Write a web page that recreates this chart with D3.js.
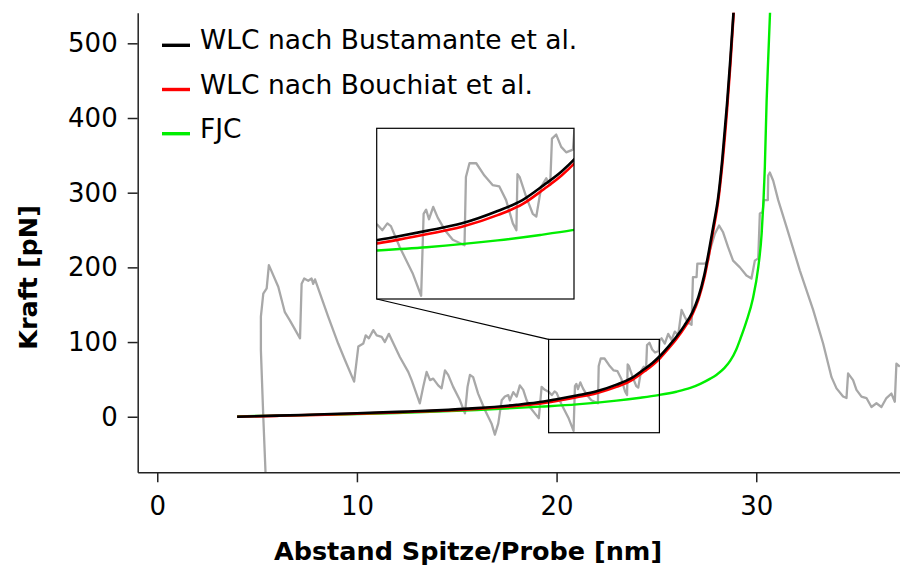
<!DOCTYPE html>
<html><head><meta charset="utf-8">
<script src="https://cdn.jsdelivr.net/npm/d3@7"></script>
<style>body{margin:0;background:#fff} svg{display:block}</style>
</head><body>
<svg id="chart" width="900" height="567"></svg>
<script>
// ---------- data (nm, pN) ----------
const seriesNames = ["WLC nach Bustamante et al.", "WLC nach Bouchiat et al.", "FJC"];
const seriesColors = ["#000000", "#ff0000", "#00ee00"];

const wlcBustamante = [[4,0],[6,1.5],[8,3],[10,4.7],[12,6.5],[14,8.5],[16,11.5],[18,16],[19,19],[20,23.5],[21,28.5],[22,34],[23,43],[23.7,51],[24.3,62],[24.8,72],[25.2,82],[25.6,94],[26,107],[26.4,122],[26.8,140],[27.1,160],[27.4,190],[27.63,222],[27.85,255],[28.09,293],[28.3,345],[28.54,420],[28.7,478],[28.86,541],[28.95,580]];

const wlcBouchiat = [[4,0],[6,1.2],[8,2.5],[10,4],[12,5.8],[14,7.8],[16,10.5],[18,14.5],[19,17],[20,21],[21,26],[22,31.5],[23,40],[23.7,48],[24.3,59],[24.8,69],[25.2,79],[25.6,91],[26,104],[26.4,119],[26.8,137],[27.1,157],[27.4,186],[27.63,217],[27.85,250],[28.09,288],[28.3,338],[28.54,412],[28.7,470],[28.87,541],[28.96,580]];

const fjc = [[4,0.5],[8,2.5],[12,5],[16,9],[19.2,13.5],[21,16.5],[23,21.5],[24.2,25.5],[25.1,29],[26,33.5],[26.7,38.5],[27.2,44],[27.7,51],[28,56],[28.4,65],[28.7,75],[29,90],[29.2,104],[29.5,127],[29.83,158],[30.1,200],[30.27,245],[30.43,334],[30.52,423],[30.6,480],[30.69,541],[30.74,580]];

const measured = [[5.43,-80],[5.31,0],[5.19,89],[5.19,134],[5.31,165],[5.48,172],[5.59,203],[6.06,174],[6.39,140],[6.64,129],[7.15,105],[7.23,178],[7.36,185],[7.56,182],[7.73,185],[7.81,178],[7.9,184],[8.56,134],[9.06,98],[9.4,76],[9.86,47],[10.07,94],[10.32,98],[10.44,109],[10.6,105],[10.82,116],[10.99,109],[11.24,107],[11.4,100],[11.6,111],[11.74,103],[12.15,80],[12.57,60],[12.74,49],[13.15,18],[13.32,40],[13.49,60],[13.66,49],[13.82,51],[14.07,42],[14.24,38],[14.41,62],[14.57,56],[14.82,40],[15.16,22],[15.41,4.5],[15.54,40],[15.66,56],[15.82,53],[16.07,31],[16.41,9],[16.74,-9],[16.91,-24],[17.08,-9],[17.25,22],[17.41,27],[17.58,29],[17.66,22],[17.83,33],[18,27],[18.16,42],[18.33,36],[18.5,22],[18.66,13],[18.91,4.5],[19.11,-2],[19.25,40],[19.41,36],[19.62,33],[19.76,29],[19.9,34],[20,32],[20.24,17],[20.43,7],[20.61,-2.5],[20.85,-19],[20.92,41],[20.99,44],[21.07,37],[21.19,46],[21.32,38],[21.52,29],[21.74,22],[22.07,18],[22.11,68],[22.21,78],[22.4,78],[22.63,69],[22.86,62],[23.05,61],[23.24,51],[23.43,34],[23.53,29],[23.56,70],[23.62,68],[23.81,53],[23.99,41],[24.09,39],[24.23,61],[24.37,67],[24.48,62],[24.53,96],[24.65,99],[24.79,90],[24.93,86],[25.12,88],[25.16,102],[25.26,105],[25.42,98],[25.59,111],[25.76,103],[25.92,114],[26.09,109],[26.26,143],[26.42,134],[26.59,125],[26.67,125],[26.76,123],[26.83,187],[27.01,187],[27.05,205],[27.43,205],[27.59,209],[27.68,223],[27.93,245],[28.14,256],[28.34,247],[28.59,227],[28.84,209],[29.18,200],[29.51,189],[29.76,185],[29.93,209],[30.1,212],[30.18,272],[30.32,274],[30.38,290],[30.58,290],[30.6,323],[30.68,327],[30.85,316],[31.1,290],[31.52,254],[32.18,196],[32.85,143],[33.35,98],[33.77,53],[34.02,38],[34.35,27],[34.52,25],[34.6,58],[34.85,49],[35.02,36],[35.27,27],[35.52,25],[35.77,13],[36.02,18],[36.27,13],[36.52,25],[36.77,31],[36.94,20],[37.02,71],[37.19,67]];

const xTicks = [0, 10, 20, 30];
const yTicks = [0, 100, 200, 300, 400, 500];
const xLabel = "Abstand Spitze/Probe [nm]";
const yLabel = "Kraft [pN]";
const xDomain = [-0.98, 37.2];
const yDomain = [-74.4, 541];
const zoomXDomain = [19.6, 25.15];
const zoomYDomain = [-21.4, 103.6];

// ---------- drawing ----------
const svg = d3.select("#chart");
const FONT = "'DejaVu Sans', Verdana, sans-serif";
const plot = {left: 137.7, right: 900, top: 12.7, bottom: 472.3};
const inset = {left: 376.7, right: 574, top: 128.3, bottom: 299};

const x = d3.scaleLinear().domain(xDomain).range([plot.left, plot.right]);
const y = d3.scaleLinear().domain(yDomain).range([plot.bottom, plot.top]);
const xi = d3.scaleLinear().domain(zoomXDomain).range([inset.left, inset.right]);
const yi = d3.scaleLinear().domain(zoomYDomain).range([inset.bottom, inset.top]);

const defs = svg.append("defs");
defs.append("clipPath").attr("id", "clipMain").append("rect")
  .attr("x", plot.left).attr("y", plot.top)
  .attr("width", plot.right - plot.left).attr("height", plot.bottom - plot.top);
defs.append("clipPath").attr("id", "clipInset").append("rect")
  .attr("x", inset.left).attr("y", inset.top)
  .attr("width", inset.right - inset.left).attr("height", inset.bottom - inset.top);

function drawSeries(g, xs, ys) {
  const lin = d3.line().x(d => xs(d[0])).y(d => ys(d[1])).curve(d3.curveLinear);
  const smooth = d3.line().x(d => xs(d[0])).y(d => ys(d[1])).curve(d3.curveMonotoneX);
  g.append("path").attr("d", lin(measured)).attr("fill", "none")
    .attr("stroke", "#a8a8a8").attr("stroke-width", 2.3).attr("stroke-linejoin", "round");
  g.append("path").attr("d", smooth(fjc)).attr("fill", "none")
    .attr("stroke", seriesColors[2]).attr("stroke-width", 2.4);
  g.append("path").attr("d", smooth(wlcBouchiat)).attr("fill", "none")
    .attr("stroke", seriesColors[1]).attr("stroke-width", 2.6);
  g.append("path").attr("d", smooth(wlcBustamante)).attr("fill", "none")
    .attr("stroke", seriesColors[0]).attr("stroke-width", 2.6);
}

// main plot
drawSeries(svg.append("g").attr("clip-path", "url(#clipMain)"), x, y);

// zoom box in main plot
svg.append("rect")
  .attr("x", x(zoomXDomain[0])).attr("y", y(zoomYDomain[1]))
  .attr("width", x(zoomXDomain[1]) - x(zoomXDomain[0]))
  .attr("height", y(zoomYDomain[0]) - y(zoomYDomain[1]))
  .attr("fill", "none").attr("stroke", "#000").attr("stroke-width", 1.2);

// connector
svg.append("line")
  .attr("x1", inset.left).attr("y1", inset.bottom)
  .attr("x2", x(zoomXDomain[0])).attr("y2", y(zoomYDomain[1]))
  .attr("stroke", "#000").attr("stroke-width", 1.2);

// inset
svg.append("rect").attr("x", inset.left).attr("y", inset.top)
  .attr("width", inset.right - inset.left).attr("height", inset.bottom - inset.top)
  .attr("fill", "#fff");
drawSeries(svg.append("g").attr("clip-path", "url(#clipInset)"), xi, yi);
svg.append("rect").attr("x", inset.left).attr("y", inset.top)
  .attr("width", inset.right - inset.left).attr("height", inset.bottom - inset.top)
  .attr("fill", "none").attr("stroke", "#000").attr("stroke-width", 1.2);

// axes
const yAxis = svg.append("g").attr("transform", `translate(${plot.left},0)`)
  .call(d3.axisLeft(y).tickValues(yTicks).tickSize(10).tickSizeOuter(0).tickPadding(10));
const xAxis = svg.append("g").attr("transform", `translate(0,${plot.bottom})`)
  .call(d3.axisBottom(x).tickValues(xTicks).tickSize(10).tickSizeOuter(0).tickPadding(14));
[xAxis, yAxis].forEach(a => {
  a.selectAll("path, line").attr("stroke", "#222").attr("stroke-width", 1.5);
  a.selectAll("text").attr("font-family", FONT).attr("font-size", 26).attr("fill", "#000");
});

// axis titles
svg.append("text").attr("x", 468).attr("y", 560).attr("text-anchor", "middle")
  .attr("font-family", FONT).attr("font-size", 25.5).attr("font-weight", "bold").text(xLabel);
svg.append("text").attr("transform", "translate(37,277.5) rotate(-90)").attr("text-anchor", "middle")
  .attr("font-family", FONT).attr("font-size", 25.5).attr("font-weight", "bold").text(yLabel);

// legend
const leg = svg.append("g");
seriesNames.forEach((name, i) => {
  const base = 49.3 + i * 44.2;
  leg.append("line").attr("x1", 162).attr("x2", 190).attr("y1", base - 4).attr("y2", base - 4)
    .attr("stroke", seriesColors[i]).attr("stroke-width", 3.4);
  leg.append("text").attr("x", 200).attr("y", base)
    .attr("font-family", FONT).attr("font-size", 26.5).attr("fill", "#000").text(name);
});
</script>
</body></html>
